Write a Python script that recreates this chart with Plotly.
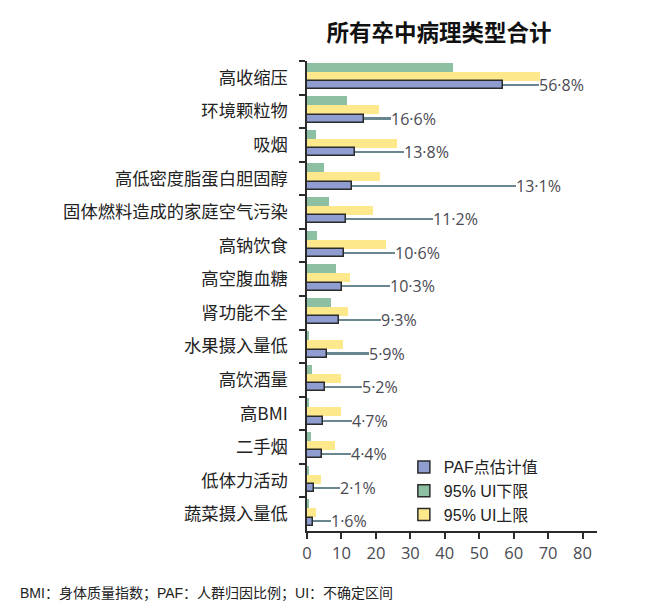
import plotly.graph_objects as go

categories = ["高收缩压", "环境颗粒物", "吸烟", "高低密度脂蛋白胆固醇", "固体燃料造成的家庭空气污染",
              "高钠饮食", "高空腹血糖", "肾功能不全", "水果摄入量低", "高饮酒量", "高BMI", "二手烟",
              "低体力活动", "蔬菜摄入量低"]
paf = [56.8, 16.6, 13.8, 13.1, 11.2, 10.6, 10.3, 9.3, 5.9, 5.2, 4.7, 4.4, 2.1, 1.6]
ui_lower = [42.3, 11.6, 2.6, 4.8, 6.5, 3.0, 8.3, 6.9, 0.4, 1.5, 0.6, 1.2, 0.3, 0.3]
ui_upper = [67.7, 21.0, 26.1, 21.3, 19.3, 22.9, 12.6, 11.9, 10.5, 9.9, 9.8, 8.1, 4.1, 2.6]
label_end = [67.4, 24.4, 28.1, 60.6, 36.5, 25.5, 24.2, 21.5, 18.1, 15.9, 13.2, 12.8, 9.6, 6.9]
value_labels = [f"{v:.1f}%".replace(".", "·") for v in paf]
x_ticks = [0, 10, 20, 30, 40, 50, 60, 70, 80]

GREEN = "#8dbfa3"
YELLOW = "#fde98c"
BLUE = "#8f9dd1"
EDGE = "#2b2b2b"
LEADER = "#6a8791"
BAR_W = 0.268

# plot area in figure pixels
L, R, T, B = 299, 589, 53, 523
W, H = 650, 613
PW, PH = R - L, B - T

fig = go.Figure()

fig.add_trace(go.Bar(y=categories, x=ui_lower, orientation="h", width=BAR_W, offset=-0.45,
                     marker=dict(color=GREEN, line=dict(width=0)), showlegend=False, hoverinfo="x"))
fig.add_trace(go.Bar(y=categories, x=ui_upper, orientation="h", width=BAR_W, offset=-0.182,
                     marker=dict(color=YELLOW, line=dict(width=0)), showlegend=False, hoverinfo="x"))
fig.add_trace(go.Bar(y=categories, x=paf, orientation="h", width=BAR_W - 0.03, offset=0.101,
                     marker=dict(color=BLUE, line=dict(width=1.5, color=EDGE)), showlegend=False,
                     hoverinfo="x"))
# leader lines with value labels
fig.add_trace(go.Bar(y=categories, x=[e - p for e, p in zip(label_end, paf)], base=paf,
                     orientation="h", width=0.045, offset=0.22 - 0.0225,
                     marker=dict(color=LEADER, line=dict(width=0)),
                     text=value_labels, textposition="outside", constraintext="none",
                     textfont=dict(family="Open Sans", size=16, color="#4a4a52"),
                     cliponaxis=False, showlegend=False, hoverinfo="skip"))

# legend entries
for name, col, rank in [("PAF点估计值", BLUE, 1), ("95% UI下限", GREEN, 2), ("95% UI上限", YELLOW, 3)]:
    fig.add_trace(go.Bar(y=[None], x=[None], orientation="h", name=name, legendrank=rank,
                         marker=dict(color=col, line=dict(width=1.5, color=EDGE))))

fig.update_layout(
    width=W, height=H,
    barmode="overlay",
    plot_bgcolor="white", paper_bgcolor="white",
    margin=dict(l=L, r=W - R, t=T, b=H - B, autoexpand=False),
    title=dict(text="<b>所有卒中病理类型合计</b>", x=431 / W, xanchor="center", xref="container",
               y=1 - 25 / H, yanchor="middle", yref="container",
               font=dict(family="Noto Sans CJK SC", size=22.5, color="#111")),
    font=dict(family="Noto Sans CJK SC", color="#222"),
    legend=dict(x=0.334, xanchor="left", y=(B - 442) / PH, yanchor="top",
                font=dict(family="Liberation Sans, Noto Sans CJK SC", size=16, color="#222"),
                bgcolor="rgba(0,0,0,0)", tracegroupgap=0, itemwidth=30),
    showlegend=True,
    bargap=0,
)

fig.update_yaxes(type="category", categoryorder="array", categoryarray=categories,
                 autorange="reversed", tickson="boundaries", ticks="outside", ticklen=6,
                 tickwidth=1.5, tickcolor=EDGE, showline=True, linecolor=EDGE, linewidth=1.5,
                 showgrid=False, ticklabelstandoff=14,
                 tickfont=dict(family="Noto Sans CJK SC", size=17.3, color="#222"))
fig.update_xaxes(range=[0, 84.2], tickvals=x_ticks, ticktext=[str(t) for t in x_ticks],
                 ticks="outside", ticklen=6, tickwidth=1.5, tickcolor=EDGE,
                 showline=True, linecolor=EDGE, linewidth=1.5, showgrid=False, zeroline=False,
                 tickfont=dict(family="Open Sans", size=16.5, color="#4a4a52"))

fig.add_annotation(text="BMI：身体质量指数；PAF：人群归因比例；UI：不确定区间",
                   xref="paper", yref="paper", x=-(L - 10) / PW, xanchor="left",
                   y=-(585 - B) / PH, yanchor="middle", showarrow=False,
                   font=dict(family="Liberation Sans, Noto Sans CJK SC", size=14, color="#222"))

fig.write_html("out.html")
